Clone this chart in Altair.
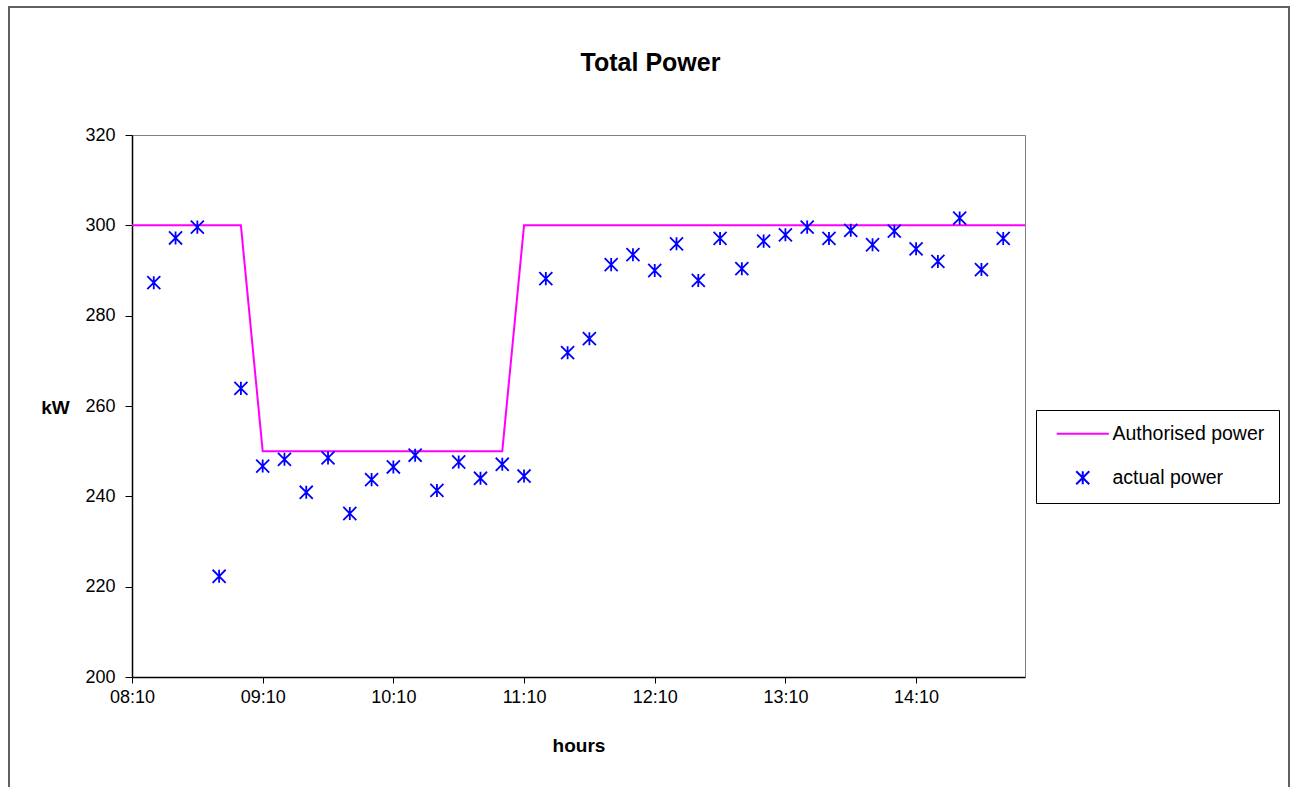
import altair as alt
import pandas as pd

# ---- data ----
auth_times = ["08:10", "08:20", "08:30", "08:40", "08:50", "09:00",
              "09:10", "09:20", "09:30", "09:40", "09:50", "10:00",
              "10:10", "10:20", "10:30", "10:40", "10:50", "11:00",
              "11:10", "11:20", "11:30", "11:40", "11:50", "12:00",
              "12:10", "12:20", "12:30", "12:40", "12:50", "13:00",
              "13:10", "13:20", "13:30", "13:40", "13:50", "14:00",
              "14:10", "14:20", "14:30", "14:40", "14:50", "15:00"]
auth_power = [300, 300, 300, 300, 300, 300,
              250, 250, 250, 250, 250, 250,
              250, 250, 250, 250, 250, 250,
              300, 300, 300, 300, 300, 300,
              300, 300, 300, 300, 300, 300,
              300, 300, 300, 300, 300, 300,
              300, 300, 300, 300, 300, 300]

actual_times = ["08:20", "08:30", "08:40", "08:50", "09:00",
                "09:10", "09:20", "09:30", "09:40", "09:50", "10:00",
                "10:10", "10:20", "10:30", "10:40", "10:50", "11:00",
                "11:10", "11:20", "11:30", "11:40", "11:50", "12:00",
                "12:10", "12:20", "12:30", "12:40", "12:50", "13:00",
                "13:10", "13:20", "13:30", "13:40", "13:50", "14:00",
                "14:10", "14:20", "14:30", "14:40", "14:50"]
actual_power = [287.3, 297.2, 299.6, 222.3, 263.9,
                246.7, 248.2, 240.9, 248.5, 236.2, 243.7,
                246.5, 249.1, 241.3, 247.6, 244.0, 247.1,
                244.5, 288.2, 271.8, 274.9, 291.3, 293.5,
                290.0, 295.9, 287.8, 297.1, 290.4, 296.5,
                297.9, 299.6, 297.1, 298.9, 295.7, 298.7,
                294.8, 292.0, 301.6, 290.2, 297.1]

series_names = ["Authorised power", "actual power"]
series_colors = ["#FF00FF", "#0000FF"]
x_tick_labels = ["08:10", "09:10", "10:10", "11:10", "12:10", "13:10", "14:10"]
y_ticks = [200, 220, 240, 260, 280, 300, 320]

START = 8 * 60 + 10


def to_min(t):
    h, m = t.split(":")
    return int(h) * 60 + int(m) - START


auth_df = pd.DataFrame({"t": [to_min(t) for t in auth_times],
                        "power": auth_power,
                        "series": series_names[0]})
act_df = pd.DataFrame({"t": [to_min(t) for t in actual_times],
                       "power": actual_power,
                       "series": series_names[1]})

FONT = "Liberation Sans"
W, H = 893, 542
PL, PT = 132, 135

label_expr = ("(floor((datum.value+490)/60) < 10 ? '0' : '') + floor((datum.value+490)/60) + ':' + "
              "(((datum.value+490)%60) < 10 ? '0' : '') + ((datum.value+490)%60)")

x_enc = alt.X("t:Q", scale=alt.Scale(domain=[0, 410], nice=False, zero=False),
              axis=alt.Axis(values=[to_min(t) for t in x_tick_labels], labelExpr=label_expr,
                            labelFlush=False, labelPadding=5,
                            title="hours", grid=False, titlePadding=30))
y_enc = alt.Y("power:Q", scale=alt.Scale(domain=[200, 320], nice=False, zero=False),
              axis=alt.Axis(values=y_ticks, title="kW", grid=False, titleAngle=0,
                            titleX=-77, titleY=272, titleAlign="center",
                            titleBaseline="middle", labelPadding=10, tickSize=7,
                            labelFlush=False))

color_scale = alt.Scale(domain=series_names, range=series_colors)
star = "M-1,-1L1,1M-1,1L1,-1M0,-1L0,1"
line_sym = "M-4,0L4,0"
shape_scale = alt.Scale(domain=series_names, range=[line_sym, star])

frame = alt.Chart(auth_df).mark_rect(fill=None, stroke="#606060", strokeWidth=1.5).encode(
    x=alt.value(9 - PL), x2=alt.value(1289 - PL),
    y=alt.value(7 - PT), y2=alt.value(820 - PT))

line = alt.Chart(auth_df).mark_line(strokeWidth=2, color=series_colors[0]).encode(
    x=x_enc, y=y_enc)

legend_spec = dict(title=None, orient="none", legendX=904, legendY=275,
                   strokeColor="black", fillColor="white", padding=14,
                   symbolOffset=23, labelOffset=20, rowPadding=23,
                   symbolSize=170, symbolStrokeWidth=2,
                   labelFontSize=19.5, labelFont=FONT, labelColor="black",
                   labelLimit=300)

pts = alt.Chart(act_df).mark_point(filled=False, size=170, strokeWidth=1.8, opacity=1).encode(
    x=x_enc, y=y_enc,
    color=alt.Color("series:N", scale=color_scale, legend=alt.Legend(**legend_spec)),
    shape=alt.Shape("series:N", scale=shape_scale, legend=alt.Legend(**legend_spec)))

chart = alt.layer(frame, line, pts).properties(
    width=W, height=H,
    background="white",
    title=alt.TitleParams("Total Power", font=FONT, fontSize=25, fontWeight="bold",
                          color="black", anchor="middle", frame="group", dx=72,
                          offset=-90, baseline="alphabetic"),
    autosize=alt.AutoSizeParams(type="none"),
    padding={"left": PL, "top": PT, "right": 1295 - PL - W, "bottom": 787 - PT - H},
).configure_view(
    stroke="#808080", strokeWidth=1
).configure_axis(
    labelFont=FONT, labelFontSize=18, labelColor="black",
    titleFont=FONT, titleFontSize=19, titleFontWeight="bold", titleColor="black",
    domainColor="black", domainWidth=1.5, tickColor="black", tickSize=6, tickWidth=1,
    labelPadding=4
)

chart.save("out.html", embed_options={"renderer": "svg", "actions": False})
